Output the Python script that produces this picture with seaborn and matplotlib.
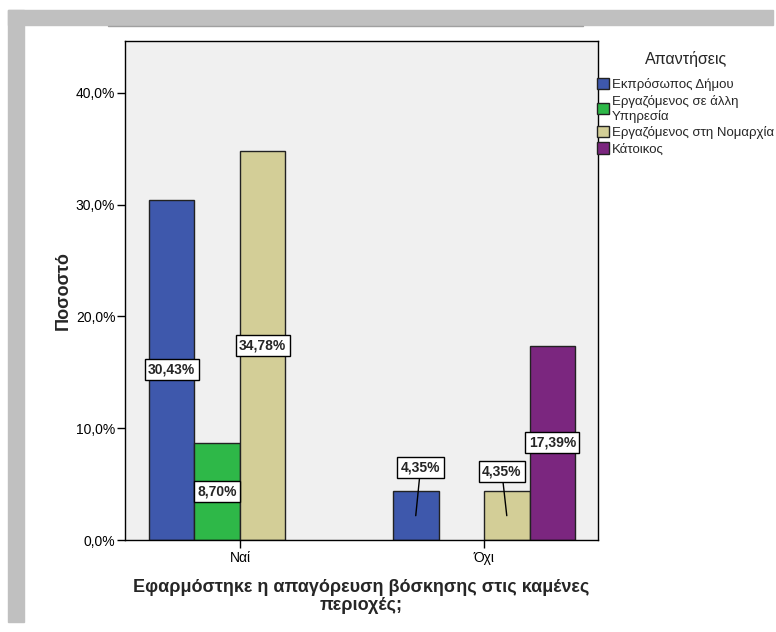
import pandas as pd
import matplotlib.pyplot as plt
import seaborn as sns
from matplotlib.patches import Patch, Rectangle
from matplotlib.lines import Line2D
from matplotlib.ticker import FuncFormatter


# Chart data
answers = ["Ναί", "Όχι"]
groups = [
    "Εκπρόσωπος Δήμου",
    "Εργαζόμενος σε άλλη\nΥπηρεσία",
    "Εργαζόμενος στη Νομαρχία",
    "Κάτοικος",
]
nai_values = [30.43, 8.70, 34.78, 0.0]
oxi_values = [4.35, 0.0, 4.35, 17.39]
colors = ["#3E58AC", "#2EB848", "#D3CE97", "#7B267F"]
y_ticks = [0, 10, 20, 30, 40]

rows = []
for answer, values in zip(answers, [nai_values, oxi_values]):
    for group, value in zip(groups, values):
        if value > 0:
            rows.append({"answer": answer, "group": group, "pct": value})
df = pd.DataFrame(rows)

sns.set_style("white")
plt.rcParams["font.family"] = ["Liberation Sans", "DejaVu Sans"]

fig = plt.figure(figsize=(7.76, 6.32), dpi=100)
ax = fig.add_axes([125 / 776, 1 - 540 / 632, 473 / 776, 499 / 632])
ax.set_facecolor("#F0F0F0")

# grey frame around the chart, like the SPSS output window
fig.patches.append(Rectangle((8 / 776, 1 - 25 / 632), 765 / 776, 15 / 632,
                             transform=fig.transFigure, color="#C0C0C0", zorder=0))
fig.patches.append(Rectangle((8 / 776, 1 - 622 / 632), 16 / 776, 612 / 632,
                             transform=fig.transFigure, color="#C0C0C0", zorder=0))
fig.lines.append(Line2D([108 / 776, 583 / 776], [1 - 25.5 / 632, 1 - 25.5 / 632],
                        transform=fig.transFigure, color="#A0A0A0", lw=1))

sns.barplot(
    data=df, x="answer", y="pct", hue="group",
    order=answers, hue_order=groups, palette=colors,
    width=0.746, edgecolor="#222222", linewidth=1, legend=False,
    errorbar=None, saturation=1, ax=ax,
)

ax.set_xlim(-0.471, 1.467)
ax.set_ylim(0, 44.65)
ax.set_yticks(y_ticks)
ax.yaxis.set_major_formatter(FuncFormatter(lambda v, p: f"{v:.1f}%".replace(".", ",")))
ax.tick_params(axis="both", direction="out", length=6, width=1, colors="black",
               labelsize=10, left=True, bottom=True)
ax.tick_params(axis="y", pad=1)
ax.tick_params(axis="x", pad=2)
for side in ax.spines.values():
    side.set_color("black")
    side.set_linewidth(1)

ax.set_ylabel("Ποσοστό", fontsize=13, fontweight="bold", labelpad=3)
ax.set_xlabel("Εφαρμόστηκε η απαγόρευση βόσκησης στις καμένες\nπεριοχές;",
              fontsize=13, fontweight="bold", labelpad=10, linespacing=1.05)

# value labels; small bars get the label lifted with a leader line
box = dict(boxstyle="square,pad=0.25", fc="white", ec="black", lw=1)
for bar in ax.patches:
    h = bar.get_height()
    if h <= 0:
        continue
    cx = bar.get_x() + bar.get_width() / 2
    text = f"{h:.2f}%".replace(".", ",")
    if h < 5:
        dx = 0.02 if cx < 1 else -0.02
        dy = 1.5 if cx < 1 else 1.4
        ax.annotate(text, xy=(cx, h / 2), xytext=(cx + dx, h * dy),
                    ha="center", va="center", fontsize=10, fontweight="bold",
                    bbox=box, arrowprops=dict(arrowstyle="-", color="black", lw=1,
                                              shrinkA=0, shrinkB=0))
    else:
        ax.text(cx, h / 2, text, ha="center", va="center", fontsize=10,
                fontweight="bold", bbox=box)

handles = [Patch(facecolor=c, edgecolor="#222222", lw=1) for c in colors]
leg = fig.legend(handles, groups, title="Απαντήσεις", loc="upper left",
                 bbox_to_anchor=(597 / 776, 1 - 51 / 632), frameon=False,
                 fontsize=9.5, title_fontsize=11.5, handlelength=0.9,
                 handleheight=0.95, handletextpad=0.25, labelspacing=0.25,
                 borderaxespad=0, borderpad=0)
leg._legend_box.align = "center"
leg._legend_box.sep = 8

fig.savefig("out.png", dpi=100)
